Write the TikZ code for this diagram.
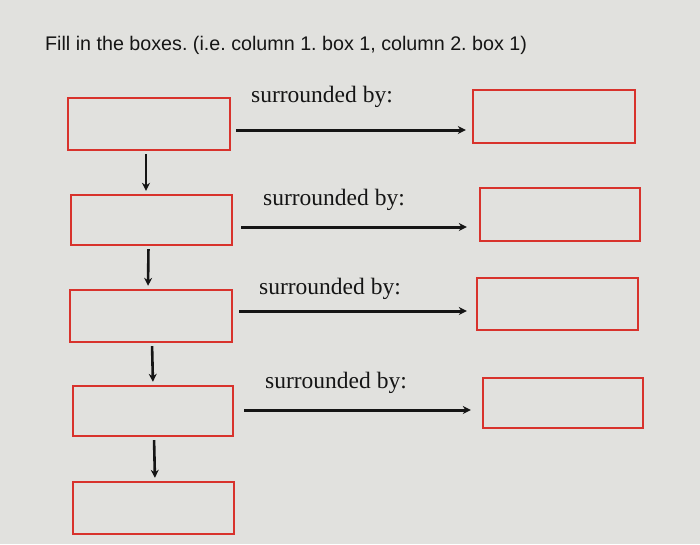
\documentclass[tikz,border=0pt]{standalone}
\usepackage{fontspec}
\setmainfont{Liberation Serif}
\newfontfamily\titlefont{Liberation Sans}
\usetikzlibrary{arrows.meta}
\definecolor{paper}{HTML}{E1E1DE}
\definecolor{boxred}{HTML}{D8322C}
\definecolor{ink}{HTML}{151515}
\begin{document}
\frenchspacing
\begin{tikzpicture}[x=1pt,y=-1pt,
  answerbox/.style={draw=boxred,line width=2.4pt,rectangle,inner sep=0pt},
  link/.style={draw=ink,line width=3pt,-{Stealth[length=8pt,width=8pt]}},
  downlink/.style={draw=ink,line width=2.6pt,-{Stealth[length=8pt,width=8pt]},shorten <=3pt,shorten >=3pt},
  lbl/.style={font=\fontsize{23.5}{25}\selectfont,text=ink,inner sep=0pt}]
\fill[paper] (0,0) rectangle (700,544);
\useasboundingbox (0,0) rectangle (700,544);
\node[anchor=west,inner sep=0pt,text=ink,font=\titlefont\fontsize{19.7}{21}\selectfont] (title) at (45,45) {Fill in the boxes. (i.e. column 1. box 1, column 2. box 1)};
% left column
\node[answerbox,minimum width=162pt,minimum height=52pt] (L1) at (149,124) {};
\node[answerbox,minimum width=161pt,minimum height=50pt] (L2) at (151.5,220) {};
\node[answerbox,minimum width=162pt,minimum height=52pt] (L3) at (151,316) {};
\node[answerbox,minimum width=160pt,minimum height=50pt] (L4) at (153,411) {};
\node[answerbox,minimum width=161pt,minimum height=52pt] (L5) at (153.5,508) {};
% right column
\node[answerbox,minimum width=162pt,minimum height=53pt] (R1) at (554,116.5) {};
\node[answerbox,minimum width=160pt,minimum height=53pt] (R2) at (560,214.5) {};
\node[answerbox,minimum width=161pt,minimum height=52pt] (R3) at (557.5,304) {};
\node[answerbox,minimum width=160pt,minimum height=50pt] (R4) at (563,403) {};
% labels
\node[lbl] (s1) at (322,97) {surrounded by:};
\node[lbl] (s2) at (334,200) {surrounded by:};
\node[lbl] (s3) at (330,289) {surrounded by:};
\node[lbl] (s4) at (336,383) {surrounded by:};
% horizontal arrows
\draw[link] ([xshift=5pt,yshift=-6pt]L1.east) -- ([xshift=-6pt,yshift=-13.5pt]R1.west);
\draw[link] ([xshift=8pt,yshift=-7pt]L2.east) -- ([xshift=-12pt,yshift=-12.5pt]R2.west);
\draw[link] ([xshift=6pt,yshift=5pt]L3.east) -- ([xshift=-9pt,yshift=-7pt]R3.west);
\draw[link] ([xshift=10pt,yshift=1pt]L4.east) -- ([xshift=-11pt,yshift=-7pt]R4.west);
% vertical arrows
\draw[downlink] ([xshift=-3pt]L1.south) -- ([xshift=-5.5pt]L2.north);
\draw[downlink] ([xshift=-3pt]L2.south) -- ([xshift=-3pt]L3.north);
\draw[downlink] ([xshift=1pt]L3.south) -- ([xshift=0pt]L4.north);
\draw[downlink] ([xshift=1pt]L4.south) -- ([xshift=1.5pt]L5.north);
\end{tikzpicture}
\end{document}
